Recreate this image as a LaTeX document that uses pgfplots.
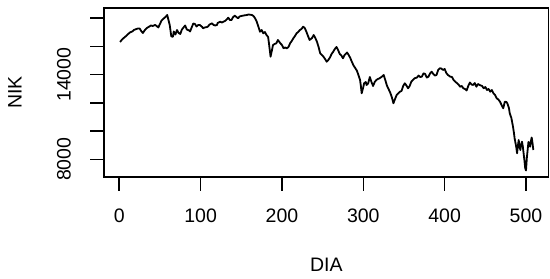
\documentclass[border=0pt]{standalone}
\usepackage{pgfplots}
\pgfplotsset{compat=1.18}
\usepackage{fontspec}
\setmainfont{Liberation Sans}
\begin{document}
\fontsize{9.75pt}{11.7pt}\selectfont
\begin{tikzpicture}
\useasboundingbox (-52.15pt,-50.65pt) rectangle (222.85pt,88.35pt);
\begin{axis}[
  scale only axis, width=222pt, height=84.35pt,
  at={(0,0)}, anchor=south west,
  xmin=-18.4, xmax=527.4, ymin=6766, ymax=18730,
  scaled y ticks=false, scaled x ticks=false,
  axis line style={line width=0.8pt},
  every tick/.style={black, line width=0.8pt},
  tick align=outside, major tick length=7pt,
  xtick={0,100,200,300,400,500},
  xticklabels={0,100,200,300,400,500},
  ytick={8000,10000,12000,14000,16000,18000},
  yticklabels={8000,,,14000,,},
  xtick pos=bottom, ytick pos=left,
  xticklabel style={anchor=center, yshift=-12.65pt},
  yticklabel style={xshift=-13.15pt, rotate=90, anchor=center},
  xlabel={DIA}, ylabel={NIK},
  xlabel style={at={(axis description cs:0.5,-0.5234)}, anchor=center},
  ylabel style={at={(axis description cs:-0.2011,0.5)}, anchor=center, rotate=0},
  clip=false,
]
\addplot[black, line width=0.9pt, line join=round] coordinates {
(1,16320)(4,16532)(7,16674)(11,16886)(13,16993)(16,17064)(18,17170)(21,17241)(23,17277)(25,17277)
(27,17099)(29,16957)(32,17206)(34,17312)(37,17418)(39,17489)(41,17454)(44,17525)(46,17454)(48,17347)
(50,17596)(52,17844)(54,17950)(56,18057)(59,18234)(60,17986)(62,17525)(64,16709)(66,16695)(67,17064)
(69,16851)(71,17170)(73,16957)(75,16887)(77,17206)(80,17418)(81,17489)(83,17206)(86,17135)(87,17064)
(89,17348)(91,17631)(93,17596)(95,17418)(97,17525)(99,17525)(102,17383)(103,17291)(105,17348)(108,17383)
(109,17418)(111,17560)(114,17645)(116,17525)(118,17489)(120,17525)(121,17667)(124,17759)(126,17702)(130,17808)
(132,17915)(134,18043)(136,17879)(138,17879)(140,18092)(142,18184)(144,18092)(146,18000)(148,18128)(150,18163)
(153,18199)(157,18234)(159,18270)(163,18234)(165,18163)(167,18000)(169,17759)(171,17404)(173,17050)(175,17170)
(177,16936)(179,17028)(181,16816)(183,16674)(184,16227)(186,15277)(188,15823)(189,16106)(191,16177)(193,16227)
(195,16461)(198,16227)(200,16106)(202,15872)(204,15929)(206,15872)(208,15965)(210,16227)(212,16390)(214,16582)
(216,16745)(218,16936)(220,17028)(222,17170)(224,17241)(226,17404)(228,17312)(230,17050)(232,16745)(234,16461)
(237,16603)(239,16816)(241,16603)(243,16340)(245,15965)(247,15518)(249,15397)(251,15277)(253,15113)(255,14922)
(257,15043)(259,15220)(261,15468)(263,15631)(265,15823)(267,15965)(269,15752)(271,15468)(273,15362)(275,15163)
(277,15397)(280,15575)(282,15397)(284,15184)(286,14901)(288,14653)(290,14475)(292,14298)(294,13979)(296,13624)
(297,13199)(298,12681)(300,13128)(301,13390)(303,13483)(304,13270)(306,13390)(308,13837)(310,13483)(312,13199)
(314,13483)(316,13624)(318,13695)(320,13745)(323,13872)(325,13979)(327,13624)(329,13234)(331,12986)(333,12738)
(335,12419)(337,11972)(339,12277)(341,12560)(343,12681)(345,12794)(347,12844)(349,13199)(351,13390)(353,13234)
(355,13036)(357,13199)(359,13504)(361,13624)(363,13745)(366,13801)(368,13943)(370,13837)(372,13858)(374,14099)
(376,14050)(378,13801)(380,13858)(382,14085)(384,14213)(386,14050)(388,13943)(390,13979)(392,14333)(394,14452)
(396,14440)(398,14333)(400,14404)(402,14121)(404,13979)(407,13858)(409,13837)(411,13624)(413,13503)(415,13411)
(417,13305)(419,13149)(421,13199)(423,13036)(425,12986)(427,12880)(429,13199)(431,13447)(433,13305)(435,13270)
(437,13411)(439,13149)(441,13340)(443,13270)(446,13199)(448,13036)(450,13128)(452,12915)(454,12986)(456,12795)
(458,12915)(460,12681)(462,12560)(464,12326)(466,12241)(468,12085)(470,11851)(472,11617)(474,12085)(476,12064)
(477,11972)(479,11638)(480,11263)(482,10930)(484,10313)(485,9937)(486,9490)(488,8873)(489,8426)(490,8944)
(491,9369)(492,8944)(493,8660)(494,9015)(495,9249)(496,8944)(497,8447)(498,7951)(499,7383)(500,7206)
(501,8093)(502,8660)(503,9227)(504,9085)(505,8894)(506,9298)(507,9546)(508,9156)(509,8660)
};
\end{axis}
\end{tikzpicture}
\end{document}
